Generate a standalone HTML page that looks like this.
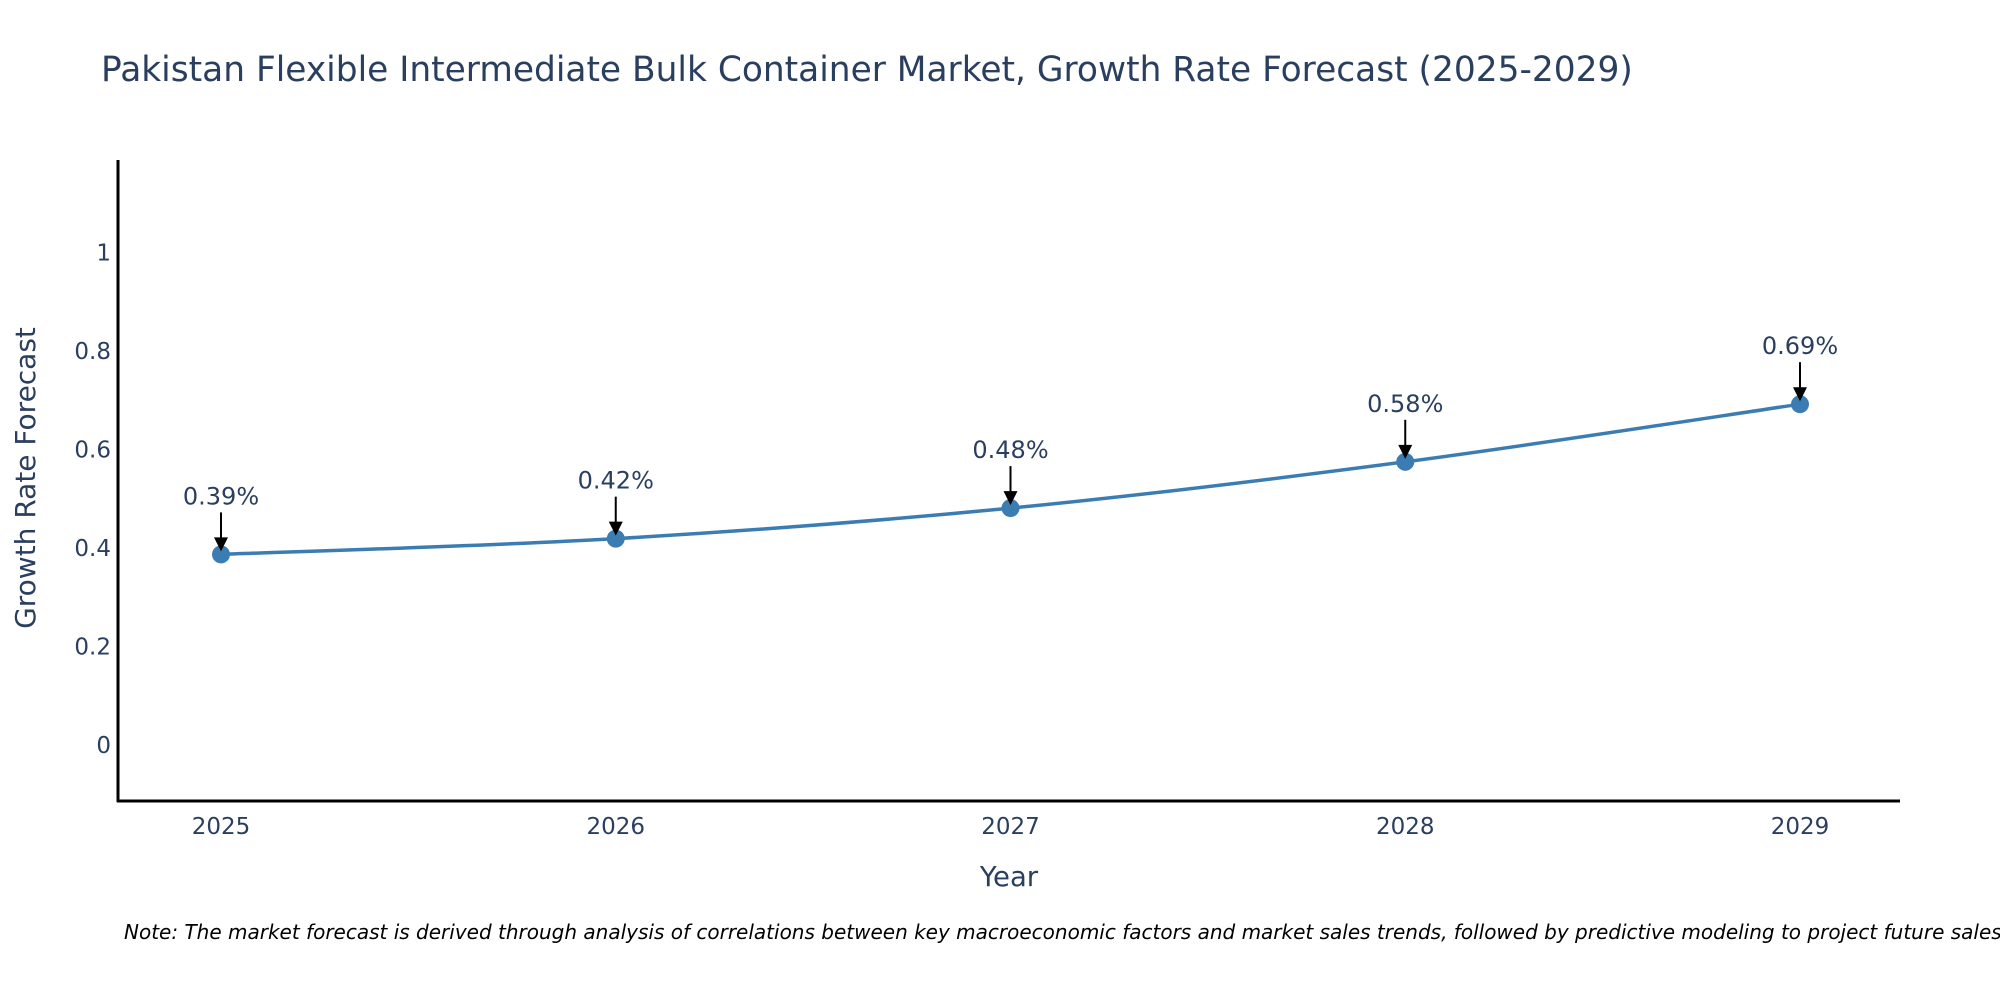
<!DOCTYPE html>
<html><head><meta charset="utf-8"><style>
body{margin:0;background:#fff;}
svg text{font-family:"DejaVu Sans","Liberation Sans",sans-serif;}
</style></head><body>
<svg id="chart" width="2000" height="1000" xmlns="http://www.w3.org/2000/svg">
<text x="101" y="81" font-size="34.4" fill="#2a3f5f">Pakistan Flexible Intermediate Bulk Container Market, Growth Rate Forecast (2025-2029)</text>
<g id="yticks"></g><g id="xticks"></g>
<line x1="118" y1="160" x2="118" y2="802" stroke="#000" stroke-width="3"/>
<line x1="117" y1="801" x2="1900" y2="801" stroke="#000" stroke-width="3"/>
<path id="line" fill="none" stroke="#3b7db2" stroke-width="3.5"/>
<g id="marks"></g>
<text x="1009" y="886" font-size="27.5" fill="#2a3f5f" text-anchor="middle">Year</text>
<text transform="translate(35,478) rotate(-90)" font-size="28" fill="#2a3f5f" text-anchor="middle">Growth Rate Forecast</text>
<text x="124" y="939" font-size="20" font-style="italic" fill="#000">Note: The market forecast is derived through analysis of correlations between key macroeconomic factors and market sales trends, followed by predictive modeling to project future sales.</text>
</svg>
<script>
const years=[2025,2026,2027,2028,2029];
const values=[0.387,0.419,0.481,0.575,0.692];
const labels=["0.39%","0.42%","0.48%","0.58%","0.69%"];
const yTicks=[0,0.2,0.4,0.6,0.8,1];
const yTickLabels=["0","0.2","0.4","0.6","0.8","1"];
const NS="http://www.w3.org/2000/svg";
function X(v){return 221+(v-2025)*394.75;}
function Y(v){return 745-v*492.5;}
function mk(t,a,p){const e=document.createElementNS(NS,t);for(const k in a)e.setAttribute(k,a[k]);p.appendChild(e);return e;}
const yt=document.getElementById('yticks');
yTicks.forEach((v,i)=>{const t=mk('text',{x:111,y:Y(v)+8,'font-size':23,fill:'#2a3f5f','text-anchor':'end'},yt);t.textContent=yTickLabels[i];

});
const xt=document.getElementById('xticks');
years.forEach(v=>{const t=mk('text',{x:X(v),y:834,'font-size':23,fill:'#2a3f5f','text-anchor':'middle'},xt);t.textContent=v;

});
const P=years.map((y,i)=>[X(y),Y(values[i])]);
let d='M'+P[0][0]+','+P[0][1];
for(let i=0;i<P.length-1;i++){const p0=P[Math.max(0,i-1)],p1=P[i],p2=P[i+1],p3=P[Math.min(P.length-1,i+2)];const k=6;
d+=' C'+(p1[0]+(p2[0]-p0[0])/k)+','+(p1[1]+(p2[1]-p0[1])/k)+' '+(p2[0]-(p3[0]-p1[0])/k)+','+(p2[1]-(p3[1]-p1[1])/k)+' '+p2[0]+','+p2[1];}
document.getElementById('line').setAttribute('d',d);
const g=document.getElementById('marks');
P.forEach((p,i)=>{const c=mk('circle',{cx:p[0],cy:p[1],r:9,fill:'#3b7db2'},g);


const l=mk('line',{x1:p[0],y1:p[1]-42,x2:p[0],y2:p[1]-14,stroke:'#000','stroke-width':2},g);


const a=mk('polygon',{points:(p[0]-7)+','+(p[1]-17)+' '+(p[0]+7)+','+(p[1]-17)+' '+p[0]+','+(p[1]-3),fill:'#000'},g);


const t=mk('text',{x:p[0],y:p[1]-50,'font-size':24,fill:'#2a3f5f','text-anchor':'middle'},g);t.textContent=labels[i];

});
</script>
</body></html>
